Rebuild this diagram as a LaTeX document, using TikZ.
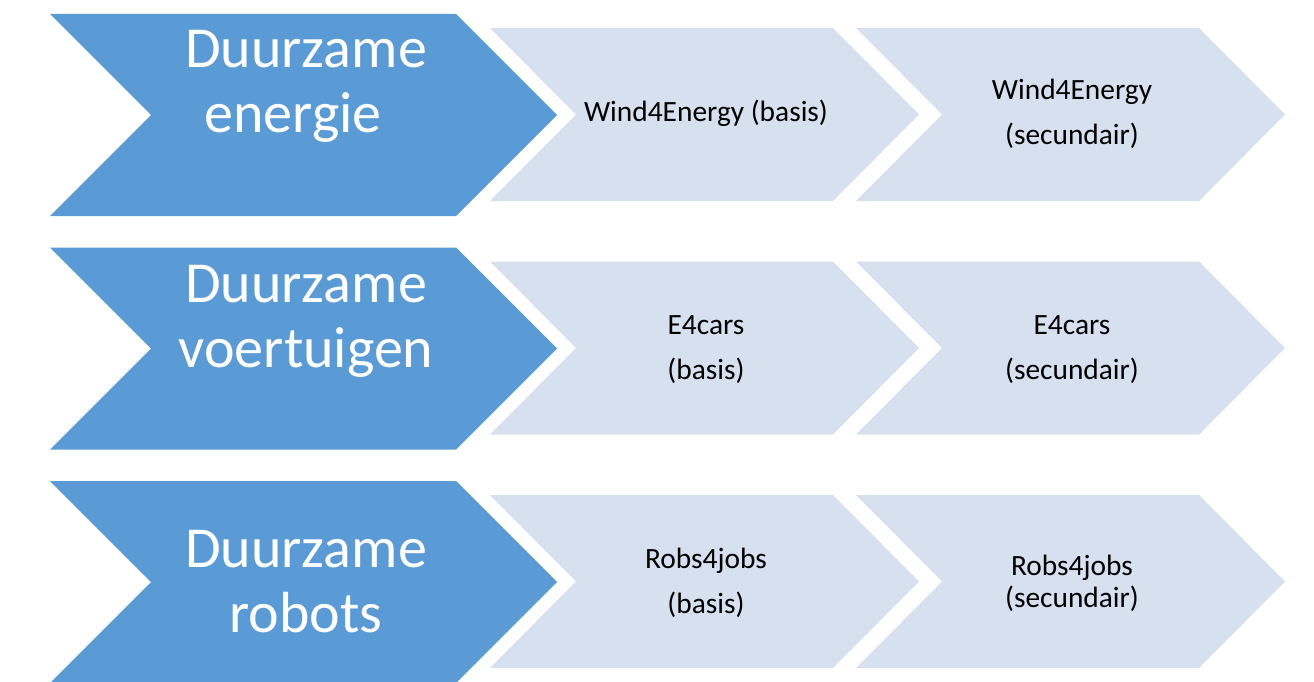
\documentclass[tikz,border=0pt]{standalone}
\usepackage{fontspec}
\setmainfont{Carlito}
\definecolor{darkchev}{HTML}{5B9BD5}
\definecolor{lightchev}{HTML}{D6E0EF}
\begin{document}
\begin{tikzpicture}[x=1pt,y=-1pt,
  bigtext/.style={anchor=base,text=white,font=\fontsize{58}{65}\selectfont,inner sep=0pt},
  smalltext/.style={anchor=base,text=black,font=\fontsize{29.4}{34}\selectfont,inner sep=0pt}]
\useasboundingbox (0,0) rectangle (1314,682);
\foreach \d in {0,233.5,467}{
  \fill[darkchev] (50,14+\d) -- (456,14+\d) -- (557,115+\d) -- (456,216+\d) -- (50,216+\d) -- (151,115+\d) -- cycle;
  \fill[lightchev] (490,28+\d) -- (833,28+\d) -- (919,114.5+\d) -- (833,201+\d) -- (490,201+\d) -- (576,114.5+\d) -- cycle;
  \fill[lightchev] (856,28+\d) -- (1199,28+\d) -- (1285,114.5+\d) -- (1199,201+\d) -- (856,201+\d) -- (942,114.5+\d) -- cycle;
}
% row 1
\node[bigtext] (b1a) at (306,68) {Duurzame};
\node[bigtext] (b1b) at (293,133) {energie};
\node[smalltext] (l1a) at (706,122) {Wind4Energy (basis)};
\node[smalltext] (r1a) at (1072,100) {Wind4Energy};
\node[smalltext] (r1b) at (1072,145) {(secundair)};
% row 2
\node[bigtext] (b2a) at (306,302) {Duurzame};
\node[bigtext] (b2b) at (306,367) {voertuigen};
\node[smalltext] (l2a) at (706,334) {E4cars};
\node[smalltext] (l2b) at (706,379) {(basis)};
\node[smalltext] (r2a) at (1072,334) {E4cars};
\node[smalltext] (r2b) at (1072,379) {(secundair)};
% row 3
\node[bigtext] (b3a) at (306,567) {Duurzame};
\node[bigtext] (b3b) at (306,632) {robots};
\node[smalltext] (l3a) at (706,568) {Robs4jobs};
\node[smalltext] (l3b) at (706,613) {(basis)};
\node[smalltext] (r3a) at (1072,575) {Robs4jobs};
\node[smalltext] (r3b) at (1072,607) {(secundair)};
\end{tikzpicture}
\end{document}
